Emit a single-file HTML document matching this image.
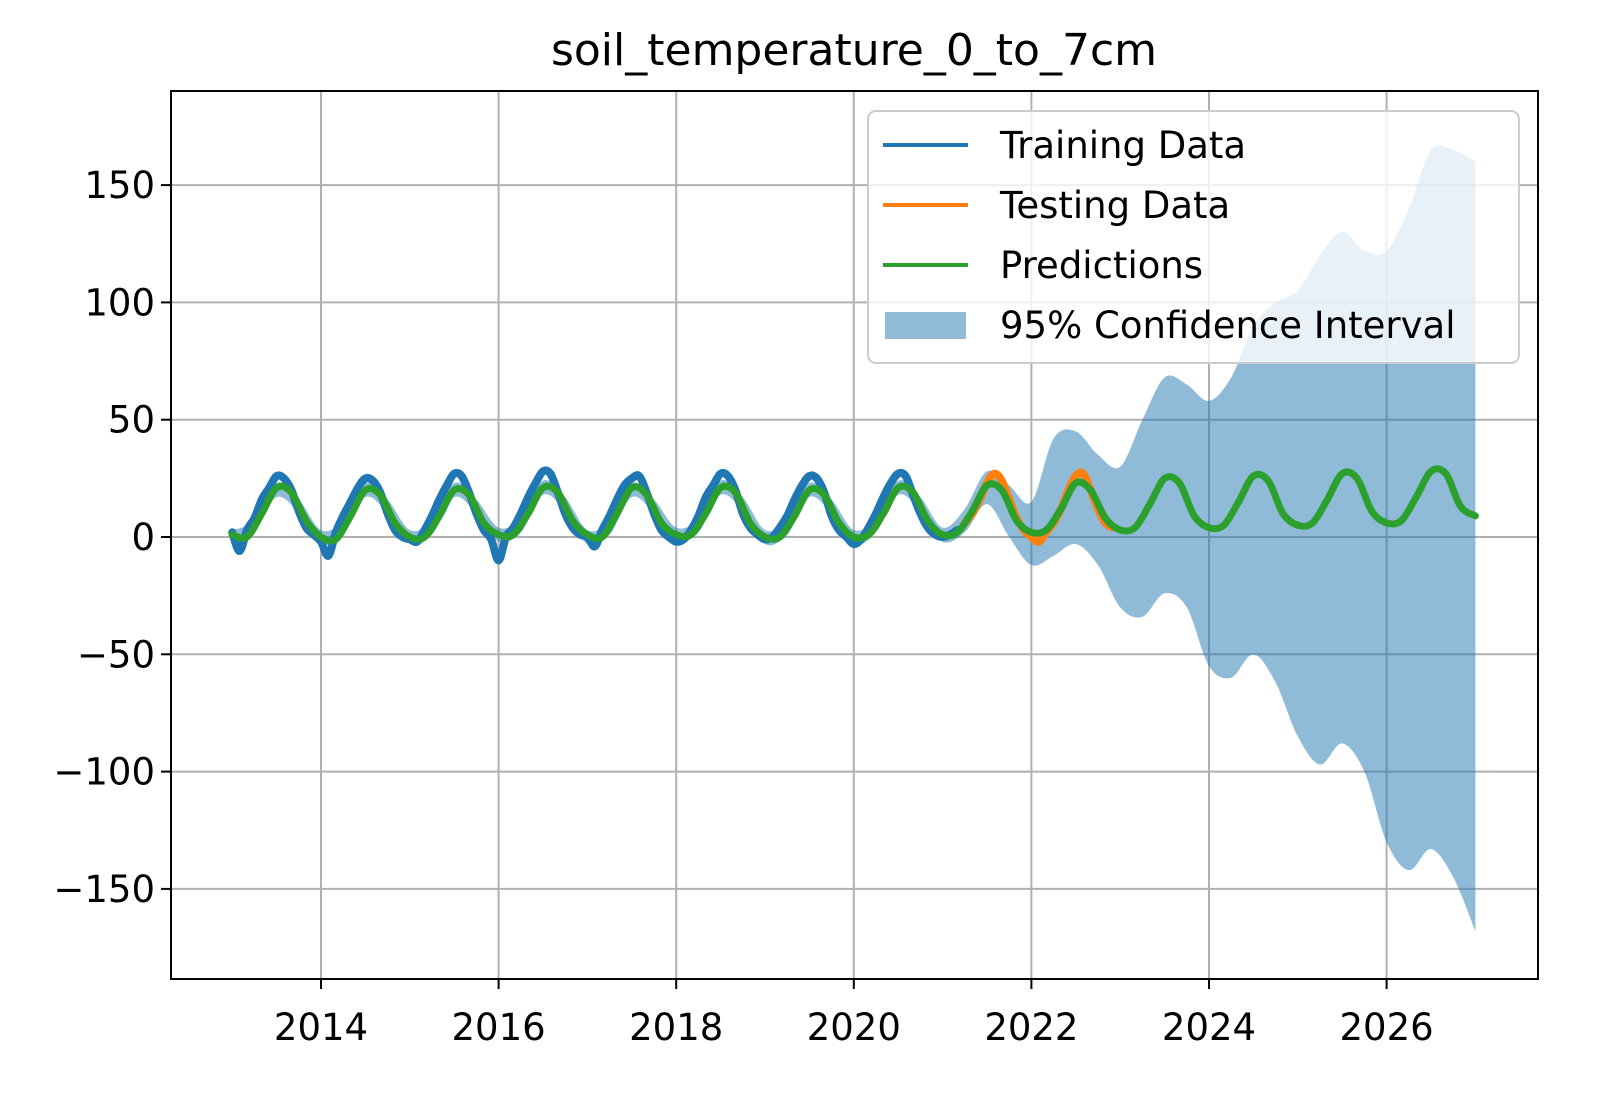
<!DOCTYPE html>
<html><head><meta charset="utf-8"><style>
body{margin:0;background:#fff}
svg{display:block;font-family:"DejaVu Sans","Liberation Sans",sans-serif}
</style></head><body>
<svg id="chart" width="1598" height="1098" viewBox="0 0 1598 1098" xmlns="http://www.w3.org/2000/svg">
<rect width="1598" height="1098" fill="#fff"/>
<text x="854" y="65" text-anchor="middle" font-size="44">soil_temperature_0_to_7cm</text>
<g id="grid"></g>
<g id="plot"></g>
<rect x="171" y="91" width="1367" height="888" fill="none" stroke="#000" stroke-width="2"/>
<g id="ticks"></g>
<g>
<rect x="868" y="111" width="651" height="252" rx="8" fill="#fff" fill-opacity="0.8" stroke="#ccc" stroke-width="2"/>
<line x1="883" y1="145" x2="968" y2="145" stroke="#1f77b4" stroke-width="4"/>
<text x="1000" y="158" font-size="37">Training Data</text>
<line x1="883" y1="205" x2="968" y2="205" stroke="#ff7f0e" stroke-width="4"/>
<text x="1000" y="218" font-size="37">Testing Data</text>
<line x1="883" y1="265" x2="968" y2="265" stroke="#2ca02c" stroke-width="4"/>
<text x="1000" y="278" font-size="37">Predictions</text>
<rect x="885" y="312" width="81" height="27" fill="#1f77b4" fill-opacity="0.5"/>
<text x="1000" y="338" font-size="37">95% Confidence Interval</text>
</g>
</svg>
<script>
const xTicks=[2014,2016,2018,2020,2022,2024,2026];
const yTicks=[150,100,50,0,-50,-100,-150];
const yTickLabels=["150","100","50","0","\u221250","\u2212100","\u2212150"];
const predStart=2013, predStep=1/6;
const predValues=[1,0,10,21,19,7, 0,-1,9,20,18,6, 0,0,9,20,18,6, 1,1,10,21,19,7, 1,0,10,21,18,6, 1,1,10,21,19,6, 0,0,9,20,18,6, 0,1,10,21,19,7, 1,2,11,22,20,7, 2,3,12,23,20,8, 3,4,14,25,23,9, 4,5,15,26,24,10, 5,6,16,27,25,11, 6,7,17,28,27,13, 9];
const trainStart=2013, trainStep=1/12;
const trainValues=[
 2,-6,3,8,16,21,26,25,20,11,4,1,
 -2,-8,2,9,15,21,25,24,19,10,3,0,
 -1,-2,3,9,16,22,27,26,19,10,3,-1,
 -10,0,4,10,17,23,28,27,19,10,4,1,
 0,-4,3,9,16,22,25,26,19,10,3,0,
 -2,-1,3,9,17,22,27,26,20,10,4,1,
 -1,0,4,9,16,22,26,25,19,9,3,0,
 -3,-1,4,10,17,23,27,26,18,10,4,1,
 0,1,3];
const testStart=2021.25, testStep=1/12;
const testValues=[6,10,16,23,27,24,16,8,3,0,-2,2,6,12,20,26,27,20,12,6,4];
const ciYears=[2013,2013.25,2013.5,2013.75,2014,2014.25,2014.5,2014.75,2015,2015.25,2015.5,2015.75,2016,2016.25,2016.5,2016.75,2017,2017.25,2017.5,2017.75,2018,2018.25,2018.5,2018.75,2019,2019.25,2019.5,2019.75,2020,2020.25,2020.5,2020.75,2021,2021.25,2021.5,2021.75,2022,2022.25,2022.5,2022.75,2023,2023.25,2023.5,2023.75,2024,2024.25,2024.5,2024.75,2025,2025.25,2025.5,2025.75,2026,2026.25,2026.5,2026.75,2027];
const ciUpper=[3,7,23,16,3,7,23,16,3,7,23,16,4,8,24,17,3,7,23,16,4,8,24,17,3,7,23,16,3,8,24,17,4,12,28,22,15,42,45,35,30,50,68,65,58,68,90,100,105,120,130,122,122,140,165,165,160];
const ciLower=[-2,2,17,10,-3,1,17,10,-3,1,17,10,-2,2,18,11,-3,1,17,10,-2,2,18,11,-3,1,17,10,-3,2,18,11,-2,2,14,0,-12,-8,-3,-12,-30,-34,-24,-30,-55,-60,-50,-62,-85,-97,-88,-100,-130,-142,-133,-145,-168];

const X0=171,X1=1538,Y0=91,Y1=979;
function xs(y){return 321+(y-2014)*88.8;}
function ys(v){return 537-v*2.346;}
const NS="http://www.w3.org/2000/svg";
function mk(t,a,p){const e=document.createElementNS(NS,t);for(const k in a)e.setAttribute(k,a[k]);p.appendChild(e);return e;}
function smooth(pts){
 let d='M'+pts[0][0]+','+pts[0][1];
 for(let i=0;i<pts.length-1;i++){
  const p0=pts[Math.max(0,i-1)],p1=pts[i],p2=pts[i+1],p3=pts[Math.min(pts.length-1,i+2)];
  const c1=[p1[0]+(p2[0]-p0[0])/6,p1[1]+(p2[1]-p0[1])/6],c2=[p2[0]-(p3[0]-p1[0])/6,p2[1]-(p3[1]-p1[1])/6];
  d+=' C'+c1[0]+','+c1[1]+' '+c2[0]+','+c2[1]+' '+p2[0]+','+p2[1];
 }
 return d;
}
const grid=document.getElementById('grid'),plot=document.getElementById('plot'),ticks=document.getElementById('ticks');
xTicks.forEach(t=>{
 const g=mk('line',{x1:xs(t),x2:xs(t),y1:Y0,y2:Y1,stroke:'#b0b0b0','stroke-width':2},grid);
 
 
 const tk=mk('line',{x1:xs(t),x2:xs(t),y1:Y1,y2:Y1+10,stroke:'#000','stroke-width':2},ticks);
 
 
 const lb=mk('text',{x:xs(t),y:1040,'text-anchor':'middle','font-size':37},ticks);
 lb.textContent=t;
 
 
});
yTicks.forEach((t,i)=>{
 const g=mk('line',{x1:X0,x2:X1,y1:ys(t),y2:ys(t),stroke:'#b0b0b0','stroke-width':2},grid);
 
 
 const tk=mk('line',{x1:X0-10,x2:X0,y1:ys(t),y2:ys(t),stroke:'#000','stroke-width':2},ticks);
 
 
 const lb=mk('text',{x:155,y:ys(t)+13,'text-anchor':'end','font-size':37},ticks);
 lb.textContent=yTickLabels[i];
 
 
});
const up=ciYears.map((y,i)=>[xs(y),ys(ciUpper[i])]);
const lo=ciYears.map((y,i)=>[xs(y),ys(ciLower[i])]).reverse();
const d=smooth(up)+' L'+smooth(lo).slice(1)+'Z';
const ci=mk('path',{d:d,fill:'#1f77b4','fill-opacity':0.5},plot);


function line(vals,start,step,color,w,name){
 const pts=vals.map((v,i)=>[xs(start+i*step),ys(v)]);
 const p=mk('path',{d:smooth(pts),fill:'none',stroke:color,'stroke-width':w,'stroke-linejoin':'round','stroke-linecap':'round'},plot);
 
 
}
line(trainValues,trainStart,trainStep,'#1f77b4',8,'training-data-line');
line(testValues,testStart,testStep,'#ff7f0e',8,'testing-data-line');
line(predValues,predStart,predStep,'#2ca02c',7,'predictions-line');
</script>
</body></html>
